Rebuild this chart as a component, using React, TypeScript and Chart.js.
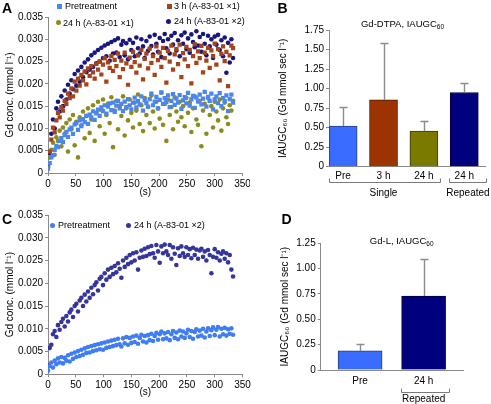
import React, { useEffect, useRef } from "react";
import { Chart, registerables } from "chart.js";

Chart.register(...registerables);

const FONT = "'Liberation Sans', Arial, Helvetica, sans-serif";

// ---------- DATA ----------
// sampling times (s)
const timeS = [
  0, 3, 6, 9, 12, 15, 18, 21, 24, 27, 30, 33, 36, 39, 42, 45, 48, 51, 54, 57, 60, 63, 66, 69, 72, 75, 78, 81,
  84, 87, 90, 93, 96, 99, 102, 105, 108, 111, 114, 117, 120, 123, 126, 129, 132, 135, 138, 141, 144, 147, 150,
  153, 156, 159, 162, 165, 168, 171, 174, 177, 180, 183, 186, 189, 192, 195, 198, 201, 204, 207, 210, 213, 216,
  219, 222, 225, 228, 231, 234, 237, 240, 243, 246, 249, 252, 255, 258, 261, 264, 267, 270, 273, 276, 279, 282,
  285, 288, 291, 294, 297, 300, 303, 306, 309, 312, 315, 318, 321, 324, 327, 330, 333,
];

// Panel A: Gd-DTPA concentration (mmol/l)
const aPretreatment = [
  0.0010, 0.0022, 0.0035, 0.0040, 0.0052, 0.0061, 0.0058, 0.0072, 0.0078, 0.0069, 0.0085,
  0.0092, 0.0081, 0.0098, 0.0102, 0.0088, 0.0109, 0.0112, 0.0097, 0.0118, 0.0105,
  0.0121, 0.0114, 0.0128, 0.0110, 0.0131, 0.0125, 0.0138, 0.0119, 0.0134, 0.0142,
  0.0128, 0.0147, 0.0139, 0.0152, 0.0133, 0.0149, 0.0156, 0.0141, 0.0158, 0.0137,
  0.0151, 0.0162, 0.0145, 0.0155, 0.0139, 0.0160, 0.0148, 0.0166, 0.0152, 0.0143,
  0.0158, 0.0169, 0.0147, 0.0161, 0.0154, 0.0172, 0.0140, 0.0163, 0.0157, 0.0149,
  0.0166, 0.0178, 0.0152, 0.0160, 0.0171, 0.0145, 0.0164, 0.0181, 0.0155, 0.0168,
  0.0159, 0.0174, 0.0148, 0.0162, 0.0177, 0.0153, 0.0167, 0.0158, 0.0175, 0.0144,
  0.0163, 0.0170, 0.0156, 0.0180, 0.0151, 0.0165, 0.0173, 0.0146, 0.0169, 0.0160,
  0.0176, 0.0154, 0.0167, 0.0182, 0.0149, 0.0171, 0.0162, 0.0178, 0.0143, 0.0165,
  0.0172, 0.0157, 0.0179, 0.0150, 0.0168, 0.0161, 0.0174, 0.0139, 0.0166, 0.0176, 0.0158,
];
const a3hSingle = [
  0.0020, 0.0048, 0.0075, 0.0102, 0.0091, 0.0118, 0.0135, 0.0125, 0.0148, 0.0140, 0.0162,
  0.0155, 0.0178, 0.0168, 0.0190, 0.0172, 0.0205, 0.0185, 0.0212, 0.0196, 0.0220,
  0.0208, 0.0228, 0.0199, 0.0235, 0.0218, 0.0240, 0.0226, 0.0212, 0.0245, 0.0232,
  0.0250, 0.0221, 0.0243, 0.0258, 0.0205, 0.0248, 0.0236, 0.0262, 0.0229, 0.0254,
  0.0240, 0.0268, 0.0215, 0.0252, 0.0233, 0.0270, 0.0246, 0.0198, 0.0259, 0.0238,
  0.0272, 0.0249, 0.0225, 0.0264, 0.0241, 0.0276, 0.0210, 0.0256, 0.0268, 0.0235,
  0.0279, 0.0247, 0.0262, 0.0220, 0.0284, 0.0253, 0.0270, 0.0238, 0.0281, 0.0258,
  0.0203, 0.0274, 0.0250, 0.0286, 0.0232, 0.0266, 0.0278, 0.0244, 0.0288, 0.0215,
  0.0269, 0.0255, 0.0283, 0.0240, 0.0276, 0.0201, 0.0262, 0.0289, 0.0247, 0.0273,
  0.0258, 0.0285, 0.0226, 0.0270, 0.0252, 0.0281, 0.0236, 0.0275, 0.0262, 0.0290,
  0.0243, 0.0278, 0.0208, 0.0267, 0.0284, 0.0251, 0.0272, 0.0195, 0.0264, 0.0286, 0.0280,
];
const a24hSingle = [
  0.0015, 0.0035, 0.0052, 0.0068, 0.0041, 0.0080, 0.0072, 0.0095, 0.0060, 0.0102, 0.0088,
  0.0112, 0.0048, 0.0120, 0.0098, 0.0130, 0.0062, 0.0115, 0.0035, 0.0125, 0.0107,
  0.0138, 0.0078, 0.0128, 0.0145, 0.0090, 0.0120, 0.0152, 0.0072, 0.0135, 0.0160,
  0.0105, 0.0142, 0.0165, 0.0088, 0.0130, 0.0155, 0.0112, 0.0170, 0.0058, 0.0140,
  0.0162, 0.0098, 0.0150, 0.0128, 0.0172, 0.0084, 0.0145, 0.0118, 0.0165, 0.0135,
  0.0102, 0.0158, 0.0140, 0.0176, 0.0110, 0.0152, 0.0094, 0.0168, 0.0130, 0.0148,
  0.0112, 0.0174, 0.0138, 0.0100, 0.0160, 0.0145, 0.0122, 0.0180, 0.0108, 0.0155,
  0.0072, 0.0165, 0.0130, 0.0148, 0.0098, 0.0170, 0.0138, 0.0115, 0.0160, 0.0125,
  0.0150, 0.0105, 0.0168, 0.0135, 0.0158, 0.0092, 0.0145, 0.0172, 0.0120, 0.0108,
  0.0162, 0.0060, 0.0140, 0.0155, 0.0088, 0.0168, 0.0130, 0.0150, 0.0102, 0.0160,
  0.0138, 0.0118, 0.0165, 0.0095, 0.0145, 0.0158, 0.0125, 0.0110, 0.0152, 0.0140, 0.0162,
];
const a24hRepeated = [
  0.0012, 0.0045, 0.0088, 0.0120, 0.0100, 0.0145, 0.0160, 0.0138, 0.0172, 0.0150, 0.0185,
  0.0165, 0.0198, 0.0178, 0.0208, 0.0188, 0.0222, 0.0196, 0.0230, 0.0205, 0.0238,
  0.0215, 0.0248, 0.0226, 0.0255, 0.0232, 0.0264, 0.0238, 0.0270, 0.0246, 0.0276,
  0.0250, 0.0281, 0.0258, 0.0286, 0.0262, 0.0290, 0.0252, 0.0294, 0.0268, 0.0298,
  0.0270, 0.0302, 0.0260, 0.0288, 0.0296, 0.0264, 0.0291, 0.0255, 0.0299, 0.0276,
  0.0292, 0.0262, 0.0304, 0.0280, 0.0268, 0.0300, 0.0284, 0.0258, 0.0296, 0.0274,
  0.0306, 0.0285, 0.0266, 0.0310, 0.0290, 0.0272, 0.0303, 0.0260, 0.0296, 0.0312,
  0.0280, 0.0300, 0.0268, 0.0308, 0.0288, 0.0314, 0.0275, 0.0298, 0.0262, 0.0309,
  0.0290, 0.0315, 0.0278, 0.0302, 0.0270, 0.0311, 0.0294, 0.0282, 0.0318, 0.0286,
  0.0305, 0.0272, 0.0312, 0.0290, 0.0264, 0.0308, 0.0284, 0.0300, 0.0258, 0.0306,
  0.0288, 0.0310, 0.0276, 0.0298, 0.0262, 0.0304, 0.0225, 0.0292, 0.0248, 0.0300, 0.0258,
];

// Panel C: Gd-L concentration (mmol/l)
const cPretreatment = [
  0.0008, 0.0018, 0.0026, 0.0015, 0.0030, 0.0022, 0.0035, 0.0026, 0.0038, 0.0024, 0.0036,
  0.0030, 0.0042, 0.0028, 0.0045, 0.0034, 0.0048, 0.0038, 0.0051, 0.0040, 0.0054,
  0.0043, 0.0057, 0.0047, 0.0060, 0.0048, 0.0062, 0.0051, 0.0064, 0.0053, 0.0066,
  0.0055, 0.0068, 0.0054, 0.0070, 0.0058, 0.0072, 0.0060, 0.0074, 0.0062, 0.0076,
  0.0064, 0.0078, 0.0066, 0.0061, 0.0079, 0.0068, 0.0082, 0.0065, 0.0080, 0.0069,
  0.0083, 0.0071, 0.0085, 0.0067, 0.0080, 0.0087, 0.0072, 0.0084, 0.0070, 0.0086,
  0.0075, 0.0089, 0.0073, 0.0084, 0.0091, 0.0076, 0.0088, 0.0094, 0.0077, 0.0090,
  0.0079, 0.0093, 0.0075, 0.0088, 0.0095, 0.0080, 0.0092, 0.0077, 0.0096, 0.0083,
  0.0094, 0.0080, 0.0090, 0.0098, 0.0082, 0.0095, 0.0078, 0.0093, 0.0099, 0.0083,
  0.0096, 0.0085, 0.0100, 0.0081, 0.0094, 0.0101, 0.0084, 0.0097, 0.0103, 0.0086,
  0.0098, 0.0104, 0.0083, 0.0100, 0.0088, 0.0102, 0.0085, 0.0099, 0.0089, 0.0101, 0.0087,
];
const c24hRepeated = [
  0.0020, 0.0058, 0.0065, 0.0088, 0.0095, 0.0082, 0.0108, 0.0098, 0.0115, 0.0122, 0.0105,
  0.0128, 0.0116, 0.0136, 0.0142, 0.0126, 0.0150, 0.0155, 0.0138, 0.0162, 0.0168,
  0.0150, 0.0175, 0.0160, 0.0182, 0.0168, 0.0190, 0.0176, 0.0196, 0.0202, 0.0184,
  0.0210, 0.0214, 0.0196, 0.0222, 0.0208, 0.0230, 0.0214, 0.0234, 0.0220, 0.0238,
  0.0224, 0.0244, 0.0232, 0.0212, 0.0250, 0.0236, 0.0256, 0.0242, 0.0262, 0.0246,
  0.0266, 0.0250, 0.0268, 0.0230, 0.0256, 0.0272, 0.0258, 0.0276, 0.0260, 0.0279,
  0.0264, 0.0282, 0.0266, 0.0256, 0.0284, 0.0270, 0.0245, 0.0281, 0.0266, 0.0285,
  0.0270, 0.0262, 0.0284, 0.0254, 0.0279, 0.0265, 0.0240, 0.0277, 0.0260, 0.0281,
  0.0266, 0.0258, 0.0279, 0.0262, 0.0275, 0.0255, 0.0278, 0.0262, 0.0274, 0.0254,
  0.0272, 0.0276, 0.0258, 0.0270, 0.0250, 0.0273, 0.0262, 0.0222, 0.0258, 0.0275,
  0.0256, 0.0268, 0.0250, 0.0265, 0.0270, 0.0254, 0.0266, 0.0246, 0.0262, 0.0230, 0.0215,
];

// Panel B: Gd-DTPA IAUGC60
const bLabels = ["Pre", "3 h", "24 h", "24 h"];
const bPositions = [0, 1, 2, 3];
const bMeans = [0.52, 0.855, 0.455, 0.95];
const bErrors = [0.245, 0.725, 0.135, 0.125];

// Panel D: Gd-L IAUGC60
const dLabels = ["Pre", "24 h"];
const dPositions = [0, 1];
const dMeans = [0.19, 0.73];
const dErrors = [0.065, 0.37];

// ---------- STYLE ----------
const COL_PRE_A = "#4a86ef";
const COL_3H = "#a4441b";
const COL_24H1 = "#8c8c1d";
const COL_24H2 = "#17177e";
const COL_PRE_C = "#3f7df4";
const COL_24H2_C = "#35359b";

const BAR_FILL_B = ["#3a6cff", "#9b3400", "#7a7a00", "#00007f"];
const BAR_EDGE_B = ["#243f86", "#4a1a00", "#3a3a00", "#00003f"];
const BAR_FILL_D = ["#3a6cff", "#00007f"];
const BAR_EDGE_D = ["#243f86", "#00003f"];

const AXIS = "#8a8a8a";
const tickFont = { family: FONT, size: 10 };
const tickGrid = { display: true, drawOnChartArea: false, drawTicks: true, tickLength: 3, color: AXIS };

const pts = (ys: number[]) => ys.map((y, i) => ({ x: timeS[i], y }));

function scatterDs(label: string, ys: number[], color: string, shape: "rect" | "circle") {
  return {
    label,
    data: pts(ys),
    backgroundColor: color,
    borderColor: color,
    pointStyle: shape,
    pointRadius: shape === "rect" ? 3.0 : 2.3,
    pointBorderWidth: 0,
    pointHoverRadius: 0,
  };
}

type Lay = { padL: number; padT: number; padR: number; yW: number; xH: number; xTitlePadB: number; yTitlePad: number };

function scatterConfig(datasets: any[], lay: Lay): any {
  return {
    type: "scatter",
    data: { datasets },
    options: {
      responsive: false,
      animation: false,
      events: [],
      layout: { padding: { left: lay.padL, top: lay.padT, right: lay.padR, bottom: 0 } },
      plugins: { legend: { display: false }, tooltip: { enabled: false }, title: { display: false } },
      scales: {
        x: {
          type: "linear",
          min: 0,
          max: 350,
          offset: false,
          ticks: { stepSize: 50, color: "#000", font: tickFont, padding: 2, maxRotation: 0, autoSkip: false },
          grid: tickGrid,
          border: { display: true, color: AXIS, width: 1 },
          title: { display: true, text: "(s)", color: "#000", font: tickFont, padding: { top: 0, bottom: lay.xTitlePadB } },
          afterFit: (s: any) => {
            s.height = lay.xH;
          },
        },
        y: {
          type: "linear",
          min: 0,
          max: 0.035,
          ticks: {
            stepSize: 0.005,
            color: "#000",
            font: tickFont,
            padding: 2,
            callback: (v: any) => (Number(v) === 0 ? "0" : Number(v).toFixed(3)),
          },
          grid: tickGrid,
          border: { display: true, color: AXIS, width: 1 },
          title: {
            display: true,
            text: "Gd conc. (mmol l\u207B\u00B9)",
            color: "#000",
            font: tickFont,
            padding: { top: lay.yTitlePad, bottom: 0 },
          },
          afterFit: (s: any) => {
            s.width = lay.yW;
          },
        },
      },
    },
  };
}

type Bracket = { from: number; to: number; text: string; at: number };

function barPlugin(pos: number[], means: number[], errs: number[], brackets: Bracket[], lineDy: number, textDy: number) {
  return {
    id: "errorsAndBrackets",
    afterDatasetsDraw(chart: any) {
      const { ctx } = chart;
      const x = chart.scales.x;
      const y = chart.scales.y;
      ctx.save();
      ctx.strokeStyle = "#8c8c8c";
      ctx.lineWidth = 1.4;
      pos.forEach((p, i) => {
        const px = Math.round(x.getPixelForValue(p)) + 0.5;
        const y0 = y.getPixelForValue(means[i]);
        const y1 = Math.round(y.getPixelForValue(means[i] + errs[i])) + 0.5;
        ctx.beginPath();
        ctx.moveTo(px, y0);
        ctx.lineTo(px, y1);
        ctx.moveTo(px - 4, y1);
        ctx.lineTo(px + 4, y1);
        ctx.stroke();
      });
      ctx.restore();
    },
    afterDraw(chart: any) {
      const { ctx, chartArea } = chart;
      const x = chart.scales.x;
      const ly = Math.round(chartArea.bottom + lineDy) + 0.5;
      ctx.save();
      ctx.strokeStyle = "#7a7a7a";
      ctx.lineWidth = 1;
      ctx.fillStyle = "#000";
      ctx.font = `10px ${FONT}`;
      ctx.textAlign = "center";
      ctx.textBaseline = "middle";
      brackets.forEach((b) => {
        const x1 = Math.round(x.getPixelForValue(b.from)) + 0.5;
        const x2 = Math.round(x.getPixelForValue(b.to)) + 0.5;
        ctx.beginPath();
        ctx.moveTo(x1, ly - 4);
        ctx.lineTo(x1, ly);
        ctx.lineTo(x2, ly);
        ctx.lineTo(x2, ly - 4);
        ctx.stroke();
        ctx.fillText(b.text, x.getPixelForValue(b.at), chartArea.bottom + textDy);
      });
      ctx.restore();
    },
  };
}

type BarLay = {
  padL: number;
  padT: number;
  padR: number;
  yW: number;
  xH: number;
  xMin: number;
  xMax: number;
  yMax: number;
  thickness: number;
  tickPad: number;
  lineDy: number;
  textDy: number;
};

function barConfig(
  labels: string[],
  pos: number[],
  means: number[],
  errs: number[],
  fills: string[],
  edges: string[],
  brackets: Bracket[],
  lay: BarLay
): any {
  return {
    type: "bar",
    data: {
      datasets: [
        {
          data: pos.map((p, i) => ({ x: p, y: means[i] })),
          backgroundColor: fills,
          borderColor: edges,
          borderWidth: 1,
          borderSkipped: "bottom",
          barThickness: lay.thickness,
        },
      ],
    },
    options: {
      responsive: false,
      animation: false,
      events: [],
      layout: { padding: { left: lay.padL, top: lay.padT, right: lay.padR, bottom: 0 } },
      plugins: { legend: { display: false }, tooltip: { enabled: false }, title: { display: false } },
      scales: {
        x: {
          type: "linear",
          min: lay.xMin,
          max: lay.xMax,
          offset: false,
          afterBuildTicks: (s: any) => {
            s.ticks = pos.map((p) => ({ value: p }));
          },
          ticks: {
            color: "#000",
            font: tickFont,
            padding: lay.tickPad,
            maxRotation: 0,
            autoSkip: false,
            callback: (v: any) => labels[pos.indexOf(Number(v))] ?? "",
          },
          grid: { display: false, drawTicks: false, offset: false },
          border: { display: true, color: AXIS, width: 1 },
          afterFit: (s: any) => {
            s.height = lay.xH;
          },
        },
        y: {
          type: "linear",
          min: 0,
          max: lay.yMax,
          ticks: {
            stepSize: 0.25,
            color: "#000",
            font: tickFont,
            padding: 2,
            callback: (v: any) => (Number(v) === 0 ? "0" : Number(v).toFixed(2)),
          },
          grid: tickGrid,
          border: { display: true, color: AXIS, width: 1 },
          title: {
            display: true,
            text: "IAUGC\u2086\u2080 (Gd mmol sec l\u207B\u00B9)",
            color: "#000",
            font: tickFont,
            padding: { top: 0, bottom: 0 },
          },
          afterFit: (s: any) => {
            s.width = lay.yW;
          },
        },
      },
    },
    plugins: [barPlugin(pos, means, errs, brackets, lay.lineDy, lay.textDy)],
  };
}

// ---------- COMPONENTS ----------
function ChartBox(props: { left: number; top: number; width: number; height: number; clipWidth?: number; make: () => any }) {
  const ref = useRef<HTMLCanvasElement>(null);
  useEffect(() => {
    const chart = new Chart(ref.current as HTMLCanvasElement, props.make());
    return () => chart.destroy();
  }, []);
  return (
    <div
      style={{
        position: "absolute",
        left: props.left,
        top: props.top,
        width: props.clipWidth ?? props.width,
        height: props.height,
        overflow: "hidden",
      }}
    >
      <canvas ref={ref} width={props.width} height={props.height} style={{ width: props.width, height: props.height, display: "block" }} />
    </div>
  );
}

function LegendItem(props: { mx: number; my: number; tx: number; shape: "rect" | "circle"; color: string; text: string }) {
  const s = 5;
  return (
    <>
      <div
        style={{
          position: "absolute",
          left: props.mx - s / 2,
          top: props.my - s / 2,
          width: s,
          height: s,
          background: props.color,
          borderRadius: props.shape === "circle" ? "50%" : 0,
        }}
      />
      <div
        style={{
          position: "absolute",
          left: props.tx,
          top: props.my - 6,
          font: `9px ${FONT}`,
          lineHeight: "12px",
          whiteSpace: "nowrap",
          color: "#000",
        }}
      >
        {props.text}
      </div>
    </>
  );
}

function PanelLetter(props: { x: number; y: number; t: string }) {
  return (
    <div
      style={{
        position: "absolute",
        left: props.x,
        top: props.y,
        font: `bold 14px ${FONT}`,
        lineHeight: "14px",
        color: "#000",
      }}
    >
      {props.t}
    </div>
  );
}

function ChartTitle(props: { cx: number; cy: number; main: string }) {
  return (
    <div
      style={{
        position: "absolute",
        left: props.cx,
        top: props.cy - 6,
        transform: "translateX(-50%)",
        font: `9.5px ${FONT}`,
        lineHeight: "12px",
        whiteSpace: "nowrap",
        color: "#000",
      }}
    >
      {props.main}
      <sub style={{ fontSize: "6.5px", lineHeight: 0, verticalAlign: "-2px" }}>60</sub>
    </div>
  );
}

export default function App() {
  const makeA = () =>
    scatterConfig(
      [
        scatterDs("Pretreatment", aPretreatment, COL_PRE_A, "rect"),
        scatterDs("3 h (A-83-01 ×1)", a3hSingle, COL_3H, "rect"),
        scatterDs("24 h (A-83-01 ×1)", a24hSingle, COL_24H1, "circle"),
        scatterDs("24 h (A-83-01 ×2)", a24hRepeated, COL_24H2, "circle"),
      ],
      { padL: 0, padT: 17, padR: 17.5, yW: 48, xH: 27, xTitlePadB: 1.5, yTitlePad: 4 }
    );
  const makeC = () =>
    scatterConfig(
      [
        scatterDs("Pretreatment", cPretreatment, COL_PRE_C, "circle"),
        scatterDs("24 h (A-83-01 ×2)", c24hRepeated, COL_24H2_C, "circle"),
      ],
      { padL: 0, padT: 15, padR: 17.5, yW: 48, xH: 29.7, xTitlePadB: 5.3, yTitlePad: 4 }
    );
  const makeB = () =>
    barConfig(
      bLabels,
      bPositions,
      bMeans,
      bErrors,
      BAR_FILL_B,
      BAR_EDGE_B,
      [
        { from: -0.35, to: 2.4, text: "Single", at: 1.0 },
        { from: 2.62, to: 3.53, text: "Repeated", at: 3.09 },
      ],
      {
        padL: 27,
        padT: 30,
        padR: 5.3,
        yW: 52,
        xH: 33.3,
        xMin: -0.35,
        xMax: 3.53,
        yMax: 1.75,
        thickness: 28,
        tickPad: 4,
        lineDy: 15,
        textDy: 26.3,
      }
    );
  const makeD = () =>
    barConfig(
      dLabels,
      dPositions,
      dMeans,
      dErrors,
      BAR_FILL_D,
      BAR_EDGE_D,
      [{ from: 0.64, to: 1.4, text: "Repeated", at: 1.0 }],
      {
        padL: 29,
        padT: 43.3,
        padR: 28,
        yW: 41.7,
        xH: 34,
        xMin: -0.62,
        xMax: 1.62,
        yMax: 1.25,
        thickness: 44,
        tickPad: 5.7,
        lineDy: 21.7,
        textDy: 29.3,
      }
    );

  return (
    <div style={{ position: "absolute", left: 0, top: 0, width: 491, height: 404, overflow: "hidden", background: "#fff" }}>
      <ChartBox left={0} top={0} width={260} height={200} clipWidth={250} make={makeA} />
      <ChartBox left={0} top={200} width={260} height={204} make={makeC} />
      <ChartBox left={250} top={0} width={241} height={200} make={makeB} />
      <ChartBox left={250} top={200} width={241} height={204} make={makeD} />

      <PanelLetter x={2} y={1} t="A" />
      <PanelLetter x={277.5} y={0.5} t="B" />
      <PanelLetter x={2} y={211.5} t="C" />
      <PanelLetter x={281.5} y={211.5} t="D" />

      <ChartTitle cx={402.5} cy={23.5} main="Gd-DTPA, IAUGC" />
      <ChartTitle cx={401.7} cy={240.8} main="Gd-L, IAUGC" />

      <LegendItem mx={59.5} my={6} tx={65} shape="rect" color={COL_PRE_A} text="Pretreatment" />
      <LegendItem mx={169} my={6} tx={174} shape="rect" color={COL_3H} text="3 h (A-83-01 ×1)" />
      <LegendItem mx={58.5} my={22.5} tx={63} shape="circle" color={COL_24H1} text="24 h (A-83-01 ×1)" />
      <LegendItem mx={168.5} my={21} tx={174} shape="circle" color={COL_24H2} text="24 h (A-83-01 ×2)" />

      <LegendItem mx={52} my={225} tx={58} shape="circle" color={COL_PRE_C} text="Pretreatment" />
      <LegendItem mx={128.5} my={225} tx={134} shape="circle" color={COL_24H2_C} text="24 h (A-83-01 ×2)" />
    </div>
  );
}
